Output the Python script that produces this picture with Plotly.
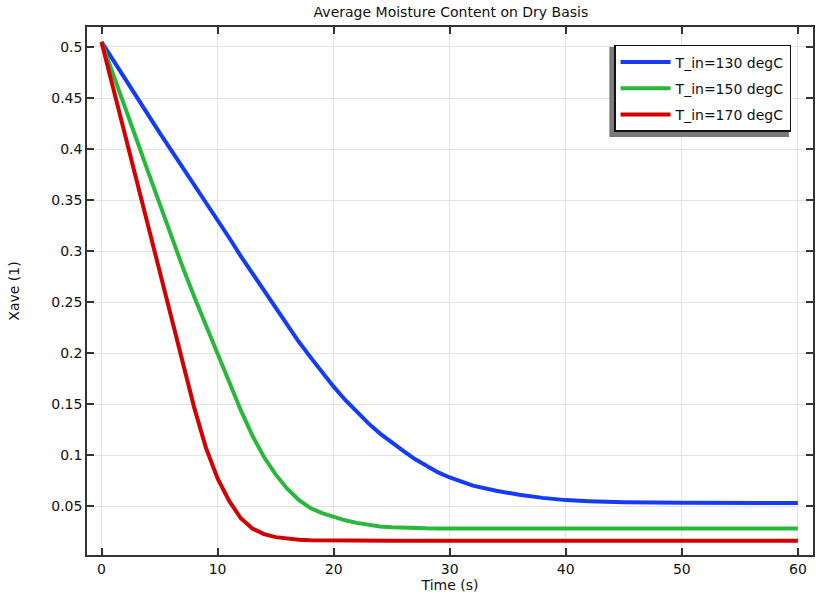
import plotly.graph_objects as go

title_text = "Average Moisture Content on Dry Basis"
x_title = "Time (s)"
y_title = "Xave (1)"

time_s = [0, 1, 2, 3, 4, 5, 6, 7, 8, 9, 10, 11, 12, 13, 14, 15, 16, 17, 18, 19, 20,
          21, 22, 23, 24, 25, 26, 27, 28, 29, 30, 32, 34, 36, 38, 40, 42, 45, 50, 55, 60]

x_130 = [0.505, 0.487, 0.469, 0.451, 0.433, 0.416, 0.399, 0.382, 0.365, 0.348, 0.331,
         0.313, 0.295, 0.278, 0.261, 0.244, 0.227, 0.211, 0.196, 0.181, 0.167,
         0.154, 0.142, 0.131, 0.121, 0.112, 0.104, 0.096, 0.089, 0.083, 0.078,
         0.070, 0.065, 0.061, 0.058, 0.0558, 0.0547, 0.0537, 0.0531, 0.053, 0.053]

x_150 = [0.505, 0.474, 0.442, 0.410, 0.378, 0.346, 0.315, 0.284, 0.255, 0.227, 0.199,
         0.171, 0.144, 0.119, 0.098, 0.081, 0.067, 0.056, 0.048, 0.043, 0.039,
         0.036, 0.0335, 0.0315, 0.030, 0.0293, 0.0287, 0.0284, 0.0282, 0.0281, 0.028,
         0.028, 0.028, 0.028, 0.028, 0.028, 0.028, 0.028, 0.028, 0.028, 0.028]

x_170 = [0.505, 0.460, 0.416, 0.372, 0.327, 0.281, 0.235, 0.190, 0.146, 0.107, 0.077,
         0.055, 0.038, 0.028, 0.0225, 0.0195, 0.018, 0.017, 0.0165, 0.0163, 0.0162,
         0.016, 0.016, 0.016, 0.016, 0.016, 0.016, 0.016, 0.016, 0.016, 0.016,
         0.016, 0.016, 0.016, 0.016, 0.016, 0.016, 0.016, 0.016, 0.016, 0.016]

series_names = ["T_in=130 degC", "T_in=150 degC", "T_in=170 degC"]
series_values = [x_130, x_150, x_170]
series_colors = ["rgb(20,60,245)", "rgb(40,185,60)", "rgb(210,0,0)"]

x_tickvals = [0, 10, 20, 30, 40, 50, 60]
x_ticktext = ["0", "10", "20", "30", "40", "50", "60"]
y_tickvals = [0.05, 0.1, 0.15, 0.2, 0.25, 0.3, 0.35, 0.4, 0.45, 0.5]
y_ticktext = ["0.05", "0.1", "0.15", "0.2", "0.25", "0.3", "0.35", "0.4", "0.45", "0.5"]

FONT = "DejaVu Sans, Liberation Sans, sans-serif"

fig = go.Figure()
for i, (name, vals, col) in enumerate(zip(series_names, series_values, series_colors)):
    fig.add_trace(go.Scatter(
        x=time_s, y=vals, mode="lines", name=name,
        line=dict(color=col, width=4),
        legendgroup=f"g{i}",
    ))

axis_common = dict(
    showline=True, linecolor="#333333", linewidth=1.5, mirror="ticks",
    ticks="inside", ticklen=7, tickwidth=1.5, tickcolor="#333333",
    showgrid=True, gridcolor="#e3e3e3", gridwidth=1,
    zeroline=False,
    tickfont=dict(family=FONT, size=14, color="#111111"),
)

fig.update_layout(
    width=816, height=595,
    paper_bgcolor="white", plot_bgcolor="white",
    margin=dict(l=87, r=1, t=27, b=40),
    font=dict(family=FONT, size=14, color="#111111"),
    title=dict(text=title_text, x=0.5526, xanchor="center", y=1 - 12 / 595, yanchor="middle",
               font=dict(family=FONT, size=14, color="#111111")),
    xaxis=dict(range=[-1.25, 61.3], tickvals=x_tickvals, ticktext=x_ticktext,
               title=dict(text=x_title, standoff=0, font=dict(family=FONT, size=14)),
               **axis_common),
    yaxis=dict(range=[0.002, 0.5196], tickvals=y_tickvals, ticktext=y_ticktext,
               title=dict(text=y_title, standoff=28, font=dict(family=FONT, size=14)),
               **axis_common),
    showlegend=True,
    legend=dict(x=0.726, y=0.966, xanchor="left", yanchor="top",
                bgcolor="white", bordercolor="#111111", borderwidth=1.5,
                font=dict(family=FONT, size=14, color="#111111"),
                tracegroupgap=5, traceorder="grouped", itemwidth=50),
    shapes=[dict(type="rect", xref="paper", yref="paper",
                 x0=0.7195, x1=0.967, y0=0.7917, y1=0.9621,
                 fillcolor="#7a7a7a", line=dict(width=0), layer="above")],
)

fig.write_html("out.html", config={"displayModeBar": False},
               post_script="document.body.style.margin='0px';")
